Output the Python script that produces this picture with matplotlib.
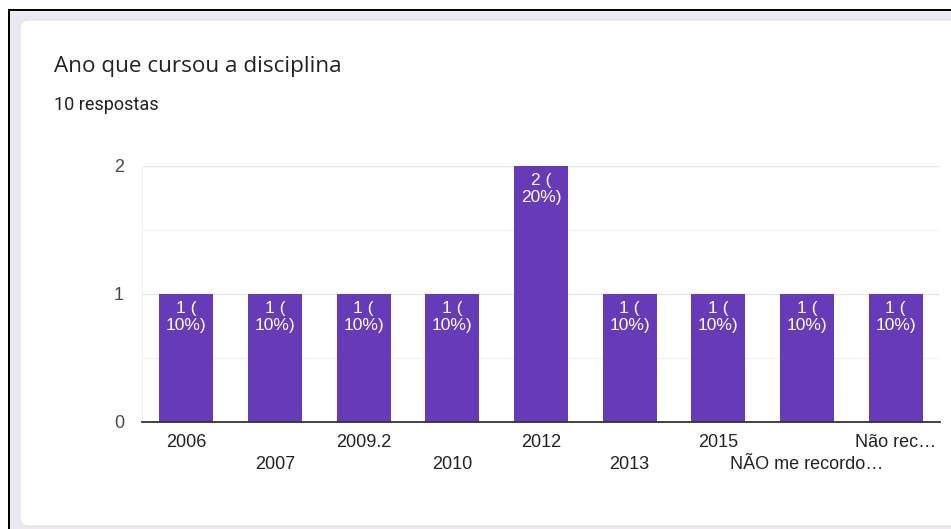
import matplotlib
matplotlib.use("Agg")
import matplotlib.pyplot as plt
from matplotlib.patches import Rectangle, FancyBboxPatch
from matplotlib.ticker import MultipleLocator

# ---- data ----
title = "Ano que cursou a disciplina"
subtitle = "10 respostas"
categories = ["2006", "2007", "2009.2", "2010", "2012", "2013", "2015",
              "NÃO me recordo…", "Não rec…"]
counts = [1, 1, 1, 1, 2, 1, 1, 1, 1]
total = 10
y_ticks = [0, 1, 2]

W, H = 951, 529
fig = plt.figure(figsize=(W / 100, H / 100), dpi=100, facecolor="white")

# background in pixel coordinates
bg = fig.add_axes([0, 0, 1, 1])
bg.set_xlim(0, W)
bg.set_ylim(H, 0)
bg.axis("off")
bg.add_patch(Rectangle((9, 10), W, H, facecolor="#ebe8f2", edgecolor="none"))
bg.add_patch(FancyBboxPatch((20, 20), W, 506,
                            boxstyle="round,pad=0,rounding_size=8",
                            facecolor="white", edgecolor="#e2e0e6", lw=0.8))
bg.add_patch(Rectangle((8, 9), W, 2.2, facecolor="black", edgecolor="none"))
bg.add_patch(Rectangle((8, 9), 2.2, H, facecolor="black", edgecolor="none"))

bg.text(54, 72, title, fontsize=16.2, family="Open Sans", color="#202124", va="baseline")
bg.text(54, 110, subtitle, fontsize=13, family="Roboto", color="#202124", va="baseline")

# chart axes
left, right = 142, 940
top, bottom = 166, 421.7
ax = fig.add_axes([left / W, (H - bottom) / H, (right - left) / W, (bottom - top) / H])
ax.set_facecolor("none")
x = list(range(len(categories)))
bars = ax.bar(x, counts, width=0.61, color="#673ab7", zorder=3)
ax.set_xlim(-0.5, len(categories) - 0.5)
ax.set_ylim(0, 2)
ax.set_yticks(y_ticks)
ax.yaxis.set_minor_locator(MultipleLocator(0.5))
ax.grid(axis="y", which="major", color="#e6e6e6", lw=1, zorder=0)
ax.grid(axis="y", which="minor", color="#f3f3f3", lw=1, zorder=0)
for s in ["top", "right"]:
    ax.spines[s].set_visible(False)
ax.spines["left"].set_color("#f1f1f1")
ax.spines["bottom"].set_color("#333333")
ax.spines["bottom"].set_linewidth(1.3)
ax.spines["bottom"].set_zorder(4)
ax.tick_params(axis="y", which="both", length=0, pad=13, labelsize=13,
               labelcolor="#4a4a4a")
ax.tick_params(axis="x", length=0, labelsize=13, labelcolor="#222222")
for lab in ax.get_yticklabels():
    lab.set_family("Liberation Sans")
ax.set_xticks(x)
ax.set_xticklabels(categories, family="Liberation Sans")
for i, t in enumerate(ax.xaxis.get_major_ticks()):
    t.set_pad(8.5 if i % 2 == 0 else 24.5)

for xi, v in zip(x, counts):
    pct = round(100 * v / total)
    ax.annotate(f"{v} (\n{pct}%)", xy=(xi, v), xytext=(0, -5),
                textcoords="offset points", ha="center", va="top",
                color="white", fontsize=12.5, family="Liberation Sans",
                linespacing=1.2, zorder=5)

fig.savefig("out.png", dpi=100, facecolor=fig.get_facecolor())
